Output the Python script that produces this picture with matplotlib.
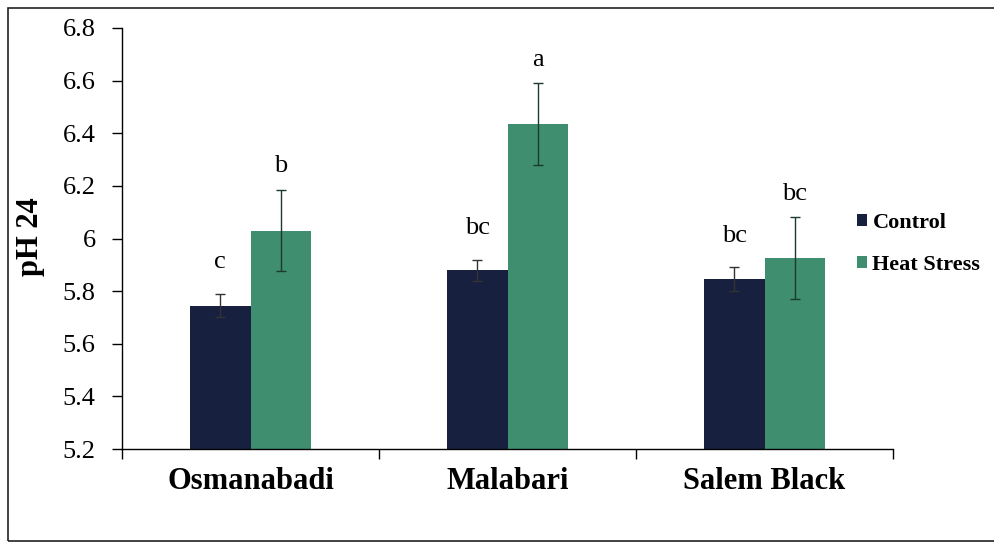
import matplotlib.pyplot as plt
import numpy as np
from matplotlib.patches import Rectangle

breeds = ["Osmanabadi", "Malabari", "Salem Black"]
control = [5.745, 5.88, 5.845]
control_err = [0.045, 0.04, 0.045]
heat = [6.03, 6.435, 5.925]
heat_err = [0.155, 0.155, 0.155]
control_letters = ["c", "bc", "bc"]
heat_letters = ["b", "a", "bc"]

plt.rcParams['font.family'] = ['Liberation Serif', 'DejaVu Serif']

fig = plt.figure(figsize=(9.95, 5.48), dpi=100)
ax = fig.add_axes([122/995, 1 - 449/548, (893-122)/995, (449-28)/548])

x = np.arange(len(breeds))
w = 0.235
c_ctrl = "#17203f"
c_heat = "#3f8e6f"

ax.bar(x - w/2, control, w, color=c_ctrl, label="Control", zorder=2)
ax.bar(x + w/2, heat, w, color=c_heat, label="Heat Stress", zorder=2)
ax.errorbar(x - w/2, control, yerr=control_err, fmt="none", ecolor="#333333",
            elinewidth=1, capsize=3.5, capthick=1, zorder=3)
ax.errorbar(x + w/2, heat, yerr=heat_err, fmt="none", ecolor="#1c3a2e",
            elinewidth=1, capsize=3.5, capthick=1, zorder=3)

# significance letters above each error bar
for xi, v, e, t in zip(x - w/2, control, control_err, control_letters):
    ax.annotate(t, (xi, v + e), xytext=(0, 15), textcoords="offset points",
                ha="center", va="bottom", fontsize=19)
for xi, v, e, t in zip(x + w/2, heat, heat_err, heat_letters):
    ax.annotate(t, (xi, v + e), xytext=(0, 9), textcoords="offset points",
                ha="center", va="bottom", fontsize=19)

ax.set_xlim(-0.5, 2.5)
ax.set_ylim(5.2, 6.8)
ax.set_yticks(np.arange(5.2, 6.81, 0.2))
ax.set_yticklabels(["5.2", "5.4", "5.6", "5.8", "6", "6.2", "6.4", "6.6", "6.8"], fontsize=19)
ax.set_xticks(x)
ax.set_xticklabels(breeds, fontsize=22, fontweight="bold")
ax.tick_params(axis="x", length=0, pad=13)
ax.set_xticks([-0.5, 0.5, 1.5, 2.5], minor=True)
ax.tick_params(axis="x", which="minor", length=7, direction="out", width=1)
ax.tick_params(axis="y", length=7, direction="out", width=1, pad=12)
for s in ["top", "right"]:
    ax.spines[s].set_visible(False)
for s in ["left", "bottom"]:
    ax.spines[s].set_linewidth(1)
ax.set_ylabel("pH 24", fontsize=22, fontweight="bold")
ax.yaxis.set_label_coords((45 - 122) / 771, 0.505)

leg = ax.legend(loc="center left", bbox_to_anchor=(848/995, 1 - 244/548),
                bbox_transform=fig.transFigure, frameon=False,
                prop={"weight": "bold", "size": 16}, handlelength=0.45,
                handleheight=0.45, handletextpad=0.25, labelspacing=1.0,
                borderaxespad=0)

fig.patches.append(Rectangle((8/995, 1 - 541/548), 1, (541-8)/548,
                             transform=fig.transFigure, fill=False,
                             edgecolor="#222222", linewidth=1.2))

fig.savefig("out.png", dpi=100)
